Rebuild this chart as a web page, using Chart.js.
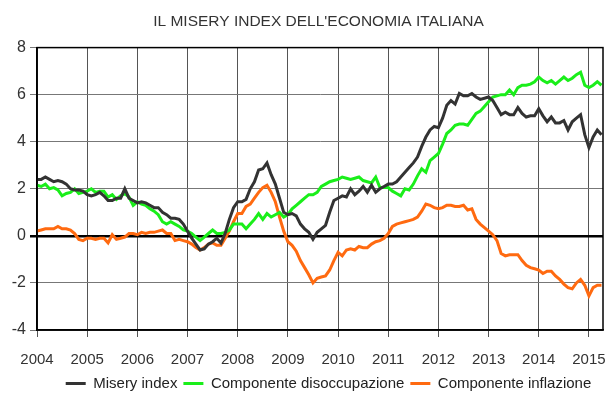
<!DOCTYPE html>
<html>
<head>
<meta charset="utf-8">
<script src="https://cdn.jsdelivr.net/npm/chart.js@4/dist/chart.umd.min.js"></script>
<style>
  html, body { margin: 0; padding: 0; background: #fff; }
  #wrap { width: 607px; height: 403px; }
</style>
</head>
<body>
<div id="wrap"><canvas id="chart"></canvas></div>
<script>
// monthly data, Jan 2004 -> Apr 2015
const startYear = 2004
const yearTicks = [2004, 2005, 2006, 2007, 2008, 2009, 2010, 2011, 2012, 2013, 2014, 2015]
const yTicks = [-4, -2, 0, 2, 4, 6, 8]

const misery = [
  2.4, 2.4, 2.5, 2.4, 2.3, 2.35, 2.3, 2.2, 2.0, 1.95, 1.95, 1.9,
  1.75, 1.7, 1.75, 1.85, 1.7, 1.5, 1.5, 1.6, 1.6, 2.0, 1.6, 1.5,
  1.4, 1.45, 1.4, 1.3, 1.2, 1.2, 1.0, 0.9, 0.75, 0.75, 0.7, 0.5,
  0.2, -0.1, -0.35, -0.6, -0.55, -0.35, -0.25, -0.1, -0.3, 0.1, 0.7, 1.2,
  1.45, 1.45, 1.55, 2.0, 2.3, 2.8, 2.85, 3.1, 2.6, 2.2, 1.6, 1.0,
  0.9, 0.95, 0.85, 0.5, 0.3, 0.15, -0.15, 0.15, 0.3, 0.45, 1.0, 1.5,
  1.6, 1.7, 1.65, 2.0, 1.75, 1.9, 2.1, 1.85, 2.15, 1.85, 2.0, 2.1,
  2.2, 2.2, 2.3, 2.5, 2.7, 2.9, 3.1, 3.35, 3.8, 4.2, 4.5, 4.65,
  4.6, 5.0, 5.55, 5.75, 5.6, 6.05, 5.95, 5.95, 6.05, 5.9, 5.8, 5.85,
  5.9, 5.75, 5.45, 5.15, 5.25, 5.15, 5.15, 5.45, 5.2, 5.05, 5.1, 5.1,
  5.4, 5.1, 4.85, 5.05, 4.8, 4.8, 4.9, 4.5, 4.85, 5.0, 5.15, 4.3,
  3.75, 4.2, 4.5, 4.3
]

const disoccupazione = [
  2.15, 2.1, 2.2, 2.0, 2.05, 1.95, 1.7, 1.8, 1.85, 2.0, 1.8, 1.85,
  1.9, 2.0, 1.85, 1.9, 1.9, 1.65, 1.75, 1.55, 1.7, 1.8, 1.65, 1.3,
  1.45, 1.35, 1.3, 1.15, 1.05, 0.9, 0.6, 0.5, 0.6, 0.5, 0.4, 0.25,
  0.2, 0.1, -0.05, -0.2, -0.05, 0.1, 0.25, 0.1, 0.1, 0.15, 0.25, 0.5,
  0.5, 0.5, 0.3, 0.5, 0.7, 0.95, 0.7, 0.95, 0.8, 0.9, 1.0, 0.8,
  0.9, 1.15, 1.3, 1.45, 1.6, 1.75, 1.75, 1.85, 2.1, 2.2, 2.3, 2.35,
  2.4, 2.5, 2.45, 2.4, 2.45, 2.5, 2.35, 2.3, 2.25, 2.5, 2.05, 2.05,
  2.05, 1.9, 1.8, 1.7, 2.0, 1.95, 2.2, 2.55, 2.85, 2.7, 3.2, 3.35,
  3.5, 3.9, 4.35, 4.5, 4.7, 4.75, 4.75, 4.7, 4.95, 5.2, 5.3, 5.5,
  5.7, 5.9, 5.95, 6.0, 6.0, 6.2, 6.0, 6.3, 6.4, 6.4, 6.45, 6.55,
  6.75, 6.6, 6.5, 6.6, 6.45, 6.6, 6.75, 6.6, 6.7, 6.85, 6.95, 6.4,
  6.3, 6.4, 6.55, 6.4
]

const inflazione = [
  0.2, 0.25, 0.3, 0.3, 0.3, 0.4, 0.3, 0.3, 0.25, 0.1, -0.15, -0.2,
  -0.1, -0.1, -0.15, -0.1, -0.1, -0.3, 0.05, -0.15, -0.1, -0.05, 0.1, 0.1,
  0.05, 0.15, 0.1, 0.15, 0.15, 0.2, 0.25, 0.1, 0.1, -0.2, -0.15, -0.2,
  -0.25, -0.35, -0.5, -0.6, -0.5, -0.35, -0.3, -0.4, -0.4, -0.1, 0.2, 0.6,
  0.95, 0.95, 1.25, 1.35, 1.6, 1.85, 2.05, 2.15, 1.85, 1.45, 0.8, 0.2,
  -0.25, -0.4, -0.65, -1.05, -1.35, -1.65, -2.0, -1.8, -1.75, -1.7, -1.45, -1.05,
  -0.7, -0.85, -0.6, -0.55, -0.6, -0.45, -0.5, -0.5, -0.35, -0.25, -0.2, -0.1,
  0.1, 0.4, 0.5, 0.55, 0.6, 0.65, 0.7, 0.8, 1.05, 1.35, 1.3, 1.2,
  1.15, 1.2, 1.3, 1.3, 1.25, 1.25, 1.3, 1.1, 1.15, 0.7, 0.5, 0.35,
  0.2, 0.05, -0.2, -0.75, -0.85, -0.8, -0.8, -0.8, -1.05, -1.25, -1.35, -1.4,
  -1.45, -1.6, -1.5, -1.5, -1.7, -1.85, -2.05, -2.2, -2.25, -2.0, -1.85, -2.1,
  -2.55, -2.2, -2.1, -2.1
]

const toPoints = arr => arr.map((v, i) => ({ x: startYear + i / 12, y: v }))

const FONT = "'Liberation Sans', Arial, sans-serif"
const TEXT = '#333333'

// frame around the plot area + nudge title/legend to sit over the plot like the original
const frame = {
  id: 'frame',
  afterLayout(chart) {
    if (chart.titleBlock) { chart.titleBlock.left += 17; chart.titleBlock.right += 17 }
    if (chart.legend) { chart.legend.left += 27; chart.legend.right += 27 }
  },
  afterDraw(chart) {
    const { ctx, chartArea: a } = chart
    ctx.save()
    ctx.strokeStyle = '#000'
    ctx.lineWidth = 1.5
    ctx.strokeRect(a.left, a.top, a.right - a.left, a.bottom - a.top)
    ctx.restore()
  }
}

new Chart(document.getElementById('chart'), {
  type: 'line',
  data: {
    datasets: [
      {
        label: 'Misery index',
        data: toPoints(misery),
        borderColor: '#333333',
        backgroundColor: '#333333',
        borderWidth: 3,
        pointRadius: 0,
        tension: 0
      },
      {
        label: 'Componente disoccupazione',
        data: toPoints(disoccupazione),
        borderColor: '#1aee1a',
        backgroundColor: '#1aee1a',
        borderWidth: 3,
        pointRadius: 0,
        tension: 0
      },
      {
        label: 'Componente inflazione',
        data: toPoints(inflazione),
        borderColor: '#ff6a10',
        backgroundColor: '#ff6a10',
        borderWidth: 3,
        pointRadius: 0,
        tension: 0
      }
    ]
  },
  options: {
    responsive: true,
    maintainAspectRatio: false,
    animation: false,
    layout: { padding: { left: 0, right: 4, top: 7, bottom: 2 } },
    plugins: {
      title: {
        display: true,
        text: "IL MISERY INDEX DELL'ECONOMIA ITALIANA",
        color: TEXT,
        font: { family: FONT, size: 15.5, weight: 'normal' },
        padding: { top: 5, bottom: 17 }
      },
      legend: {
        position: 'bottom',
        labels: {
          color: '#222',
          font: { family: FONT, size: 15 },
          usePointStyle: true,
          pointStyle: 'line',
          pointStyleWidth: 20,
          padding: 6
        }
      },
      tooltip: { enabled: false }
    },
    scales: {
      x: {
        type: 'linear',
        min: startYear,
        max: 2015.28,
        afterBuildTicks: scale => { scale.ticks = yearTicks.map(v => ({ value: v })) },
        afterFit: scale => {
          scale.paddingLeft = 0
          scale.paddingRight = 0
          scale.height = scale.height - 13
        },
        ticks: {
          color: TEXT,
          font: { family: FONT, size: 15 },
          maxRotation: 0,
          autoSkip: false,
          padding: 14,
          callback: v => String(v)
        },
        grid: { color: '#555', lineWidth: 1, tickLength: 7 },
        border: { color: '#000', width: 1.5 }
      },
      y: {
        min: -4,
        max: 8,
        afterBuildTicks: scale => { scale.ticks = yTicks.map(v => ({ value: v })) },
        afterFit: scale => { scale.width = 37 },
        ticks: {
          color: TEXT,
          font: { family: FONT, size: 16 },
          padding: 4
        },
        grid: {
          color: ctx => ctx.tick && ctx.tick.value === 0 ? '#000' : '#777',
          lineWidth: ctx => ctx.tick && ctx.tick.value === 0 ? 2.5 : 1,
          tickLength: 7
        },
        border: { color: '#000', width: 1.5 }
      }
    }
  },
  plugins: [frame]
})
</script>
</body>
</html>
